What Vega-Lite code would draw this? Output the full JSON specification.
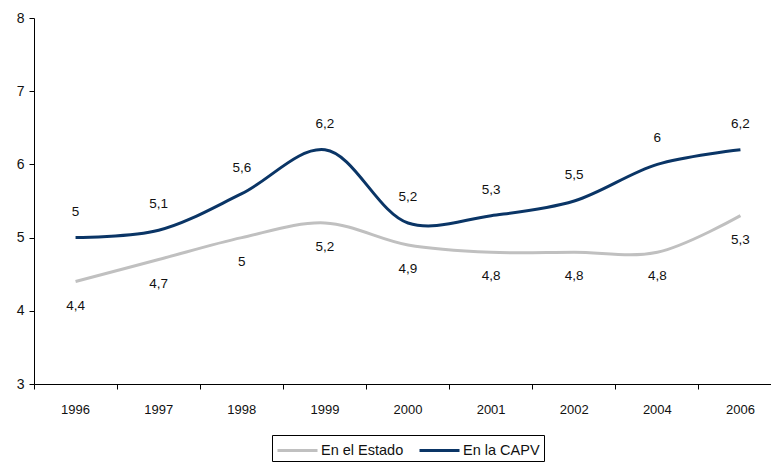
{
  "$schema": "https://vega.github.io/schema/vega-lite/v6.json",
  "width": 748,
  "height": 366,
  "autosize": {"type": "none"},
  "padding": {"left": 34, "top": 18, "right": 0, "bottom": 79},
  "background": "white",
  "config": {
    "view": {"stroke": null},
    "font": "Liberation Sans",
    "locale": {"number": {"decimal": ",", "thousands": ".", "grouping": [3], "currency": ["", " €"]}}
  },
  "data": {
    "values": [
      {"year": "1996", "serie": "En la CAPV", "value": 5},
      {"year": "1997", "serie": "En la CAPV", "value": 5.1},
      {"year": "1998", "serie": "En la CAPV", "value": 5.6},
      {"year": "1999", "serie": "En la CAPV", "value": 6.2},
      {"year": "2000", "serie": "En la CAPV", "value": 5.2},
      {"year": "2001", "serie": "En la CAPV", "value": 5.3},
      {"year": "2002", "serie": "En la CAPV", "value": 5.5},
      {"year": "2004", "serie": "En la CAPV", "value": 6},
      {"year": "2006", "serie": "En la CAPV", "value": 6.2},
      {"year": "1996", "serie": "En el Estado", "value": 4.4},
      {"year": "1997", "serie": "En el Estado", "value": 4.7},
      {"year": "1998", "serie": "En el Estado", "value": 5},
      {"year": "1999", "serie": "En el Estado", "value": 5.2},
      {"year": "2000", "serie": "En el Estado", "value": 4.9},
      {"year": "2001", "serie": "En el Estado", "value": 4.8},
      {"year": "2002", "serie": "En el Estado", "value": 4.8},
      {"year": "2004", "serie": "En el Estado", "value": 4.8},
      {"year": "2006", "serie": "En el Estado", "value": 5.3}
    ]
  },
  "encoding": {
    "x": {
      "field": "year", "type": "ordinal", "sort": null,
      "scale": {"type": "band", "paddingInner": 0, "paddingOuter": 0},
      "axis": {
        "title": null, "labelAngle": 0, "labelFontSize": 13, "labelColor": "#111",
        "labelPadding": 14, "tickSize": 5, "domainColor": "#000", "tickColor": "#000",
        "bandPosition": 0, "grid": false, "labelBound": false
      }
    },
    "y": {
      "field": "value", "type": "quantitative",
      "scale": {"domain": [3, 8], "nice": false, "zero": false},
      "axis": {
        "title": null, "values": [3, 4, 5, 6, 7, 8], "format": "d", "labelFontSize": 14,
        "labelColor": "#111", "tickSize": 5, "labelPadding": 5, "domainColor": "#000",
        "tickColor": "#000", "grid": false
      }
    }
  },
  "layer": [
    {
      "mark": {"type": "line", "interpolate": "catmull-rom", "strokeWidth": 3},
      "encoding": {
        "color": {
          "field": "serie", "type": "nominal",
          "scale": {"domain": ["En el Estado", "En la CAPV"], "range": ["#C0C0C0", "#0A3566"]},
          "legend": {
            "title": null, "orient": "none", "legendX": 238, "legendY": 417,
            "direction": "horizontal", "symbolType": "M-1,0H3", "symbolSize": 400,
            "symbolStrokeWidth": 3, "labelFontSize": 14.5, "labelColor": "#111",
            "labelOffset": 22, "columnPadding": 9, "padding": 4,
            "strokeColor": "#000", "fillColor": "white"
          }
        }
      }
    },
    {
      "transform": [{"filter": "datum.serie === 'En la CAPV'"}],
      "mark": {"type": "text", "dy": -26, "fontSize": 13.5, "color": "#111", "baseline": "middle"},
      "encoding": {"text": {"field": "value", "type": "quantitative", "format": ".1~f"}}
    },
    {
      "transform": [{"filter": "datum.serie === 'En el Estado'"}],
      "mark": {"type": "text", "dy": 24, "fontSize": 13.5, "color": "#111", "baseline": "middle"},
      "encoding": {"text": {"field": "value", "type": "quantitative", "format": ".1~f"}}
    }
  ]
}
